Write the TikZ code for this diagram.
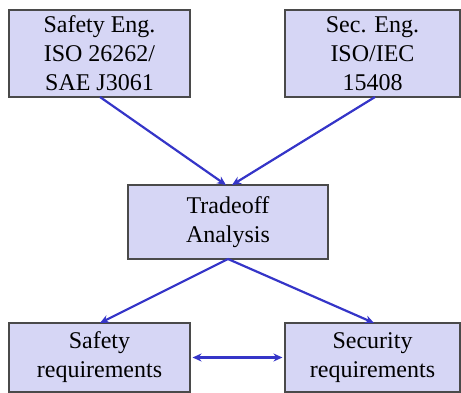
\documentclass[tikz,border=0pt]{standalone}
\usepackage{fontspec}
\setmainfont{Liberation Serif}
\usetikzlibrary{arrows.meta}
\definecolor{boxfill}{HTML}{D6D6F5}
\definecolor{boxline}{HTML}{4A4A4A}
\definecolor{flow}{HTML}{3535C8}
\tikzset{
  stagebox/.style={draw=boxline, fill=boxfill, line width=1.1pt, align=center,
    font=\fontsize{24}{29}\selectfont, inner sep=0pt},
  tip/.tip={Stealth[length=9pt,width=8pt]},
  flowarrow/.style={draw=flow, line width=2.2pt, -tip},
  bothways/.style={draw=flow, line width=2.2pt, tip-tip}
}
\begin{document}
\begin{tikzpicture}[x=1pt,y=-1pt]
\useasboundingbox (0,0) rectangle (461,393);
% input standards
\node[stagebox, minimum width=181pt, minimum height=87pt] (safe) at (99.5,53.5)
  {Safety Eng.\\ISO 26262/\\SAE J3061};
\node[stagebox, minimum width=175pt, minimum height=87pt] (sec) at (372.5,53.5)
  {Sec. Eng.\\ISO/IEC\\15408};
% tradeoff stage
\node[stagebox, minimum width=200pt, minimum height=74pt] (trade) at (228,222)
  {Tradeoff\\Analysis};
% resulting requirements
\node[stagebox, minimum width=181pt, minimum height=69pt] (sreq) at (99.5,357.5)
  {Safety\\requirements};
\node[stagebox, minimum width=175pt, minimum height=69pt] (xreq) at (372.5,357.5)
  {Security\\requirements};
% connector end points
\coordinate (safeout) at (100,97);
\coordinate (secout) at (375,97);
\coordinate (tradein1) at (226,185);
\coordinate (tradein2) at (232,185);
\coordinate (tradeout) at (228,259);
\coordinate (sreqin) at (100,323);
\coordinate (xreqin) at (374,323);
\path (sreq.east) ++(2,0) coordinate (bl);
\path (xreq.west) ++(-2,0) coordinate (br);
% connectors
\draw[flowarrow] (safeout) -- (tradein1);
\draw[flowarrow] (secout) -- (tradein2);
\draw[flowarrow] (tradeout) -- (sreqin);
\draw[flowarrow] (tradeout) -- (xreqin);
\draw[bothways] (bl) -- (br);
\end{tikzpicture}
\end{document}
